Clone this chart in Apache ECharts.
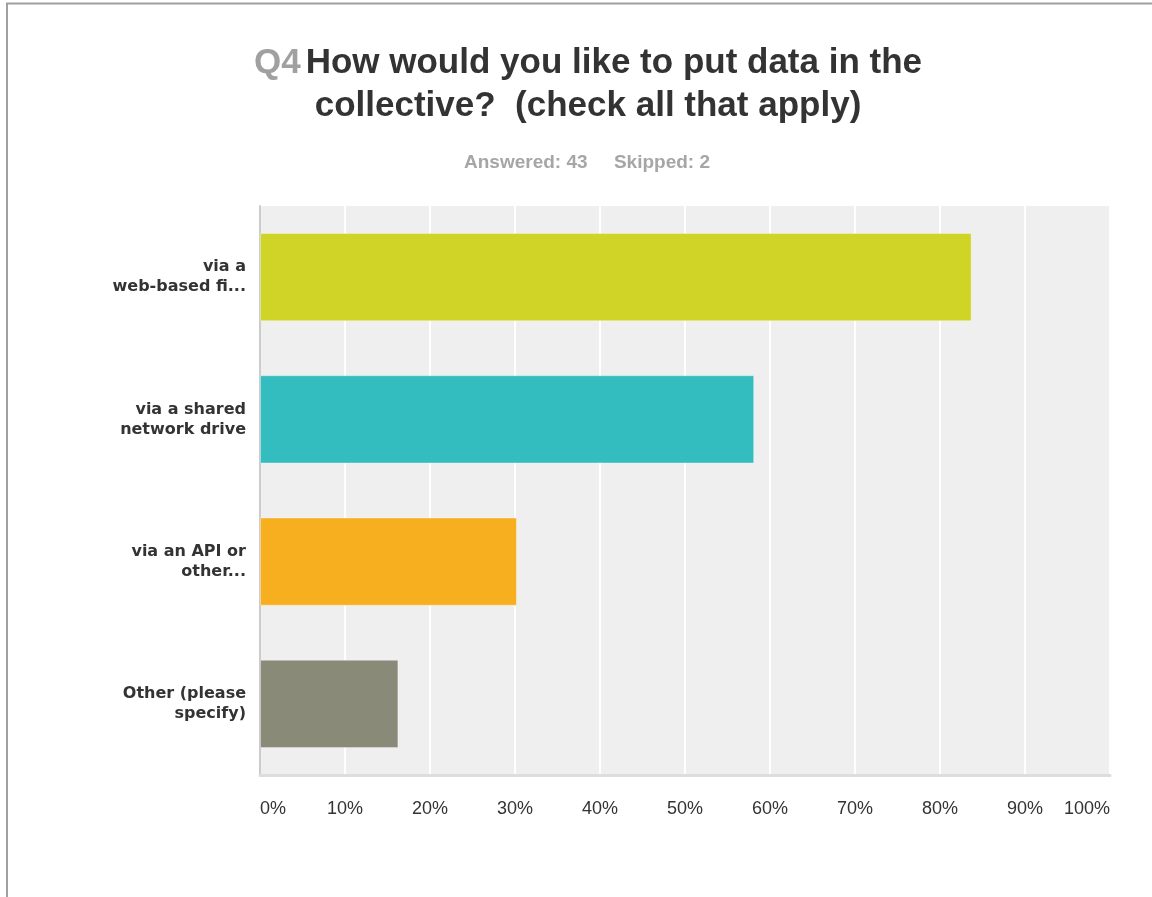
<!DOCTYPE html>
<html>
<head>
<meta charset="utf-8">
<script src="https://cdn.jsdelivr.net/npm/echarts@6/dist/echarts.min.js"></script>
<style>
html,body{margin:0;padding:0;background:#fff;}
#chart{width:1152px;height:897px;}
</style>
</head>
<body>
<div id="chart"></div>
<script>
const categories = ["via a\nweb-based fi...", "via a shared\nnetwork drive", "via an API or\nother...", "Other (please\nspecify)"];
const values = [83.72, 58.14, 30.23, 16.28];
const barColors = ["#cfd427", "#33bdbf", "#f7af1f", "#8a8a78"];
const tickValues = [0,10,20,30,40,50,60,70,80,90,100];

const narrow = "'Liberation Sans',Arial,sans-serif";
const chart = echarts.init(document.getElementById('chart'));
chart.setOption({
  animation: false,
  backgroundColor: '#fff',
  graphic: [{
    type: 'rect', silent: true,
    shape: {x: 7, y: 3.5, width: 2000, height: 2000},
    style: {fill: 'none', stroke: '#a0a0a0', lineWidth: 2}
  }],
  title: [{
    text: '{q|Q4} {m|How would you like to put data in the}\n{m|collective?  (check all that apply)}',
    left: 583, textAlign: 'center', top: 37,
    textStyle: {
      rich: {
        q: {fontFamily: narrow, fontSize: 35, fontWeight: 'bold', color: '#a0a0a0', lineHeight: 43},
        m: {fontFamily: narrow, fontSize: 35, fontWeight: 'bold', color: '#333333', lineHeight: 43}
      }
    }
  }, {
    text: 'Answered: 43     Skipped: 2',
    left: 582, textAlign: 'center', top: 148,
    textStyle: {fontFamily: narrow, fontSize: 19, fontWeight: 'bold', color: '#a6a6a6'}
  }],
  grid: {left: 260, right: 42, top: 206, bottom: 122, show: true, backgroundColor: '#efefef', borderWidth: 0},
  xAxis: {
    type: 'value', min: 0, max: 100, interval: 10,
    axisLine: {show: true, lineStyle: {color: '#dddddd', width: 3}},
    axisTick: {show: false},
    splitLine: {show: true, lineStyle: {color: '#ffffff', width: 2}},
    axisLabel: {
      formatter: v => tickValues.includes(v) ? v + '%' : '',
      margin: 25, color: '#333', fontFamily: narrow, fontSize: 18,
      alignMinLabel: 'left', alignMaxLabel: 'right'
    }
  },
  yAxis: {
    type: 'category', data: categories, inverse: true,
    axisLine: {show: true, lineStyle: {color: '#cccccc', width: 2}},
    axisTick: {show: false},
    axisLabel: {margin: 14, color: '#333', fontFamily: "Verdana,'DejaVu Sans',sans-serif", fontSize: 16, fontWeight: 'bold', lineHeight: 20, align: 'right'}
  },
  series: [{
    type: 'bar', barWidth: '62%',
    data: values.map((v, i) => ({value: v, itemStyle: {color: barColors[i], borderColor: 'rgba(255,255,255,0.35)', borderWidth: 1}}))
  }]
});
</script>
</body>
</html>
